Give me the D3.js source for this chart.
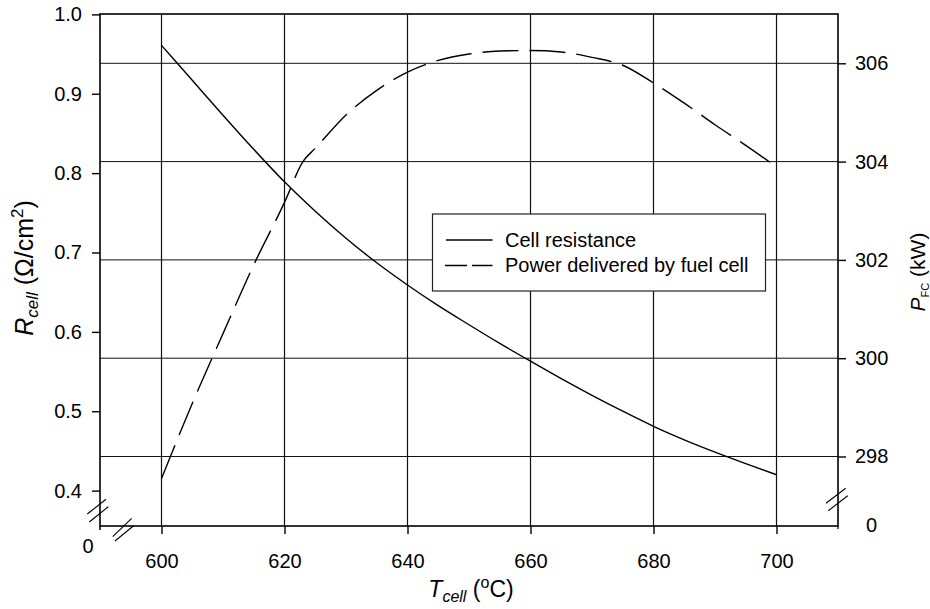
<!DOCTYPE html>
<html>
<head>
<meta charset="utf-8">
<script src="https://cdn.jsdelivr.net/npm/d3@7"></script>
<style>
  html, body { margin: 0; padding: 0; background: #fff; }
  svg { display: block; font-family: "Liberation Sans", Arial, Helvetica, sans-serif; }
</style>
</head>
<body>
<svg id="chart" width="930" height="609"></svg>
<script>
// ---- Data ----
const resT = [600, 605, 610, 615, 620, 625, 630, 635, 640, 645, 650, 655, 660, 665, 670, 675, 680, 685, 690, 695, 700];
const resR = [0.961, 0.917, 0.873, 0.830, 0.789, 0.752, 0.718, 0.687, 0.659, 0.633, 0.609, 0.5855, 0.563, 0.541, 0.520, 0.500, 0.481, 0.464, 0.4485, 0.434, 0.420];

const powT = [600, 605, 610, 615, 620, 623, 625, 630, 635, 640, 645, 650, 655, 660, 665, 670, 675, 680, 685, 690, 695, 699];
const powP = [297.55, 299.08, 300.5, 301.9, 303.17, 304.0, 304.27, 304.95, 305.45, 305.82, 306.06, 306.19, 306.25, 306.26, 306.23, 306.12, 305.96, 305.6, 305.19, 304.75, 304.33, 303.98];

const xTicks = [600, 620, 640, 660, 680, 700];
const yLeftTicks = [0.4, 0.5, 0.6, 0.7, 0.8, 0.9, 1.0];
const yRightTicks = [298, 300, 302, 304, 306];
const legendLabels = ["Cell resistance", "Power delivered by fuel cell"];

// ---- Layout ----
const L = 100, R = 838, T = 14, B = 526;
const svg = d3.select("#chart");

const x = d3.scaleLinear().domain([590, 710]).range([L, R]);
const yL = d3.scaleLinear().domain([0.4, 1.0]).range([490.6, 14.4]);
const yR = d3.scaleLinear().domain([298, 306]).range([456.5, 63.3]);

const ink = "#000";

// gridlines
const grid = svg.append("g");
grid.selectAll("line.v").data(xTicks).join("line")
  .attr("x1", d => x(d)).attr("x2", d => x(d))
  .attr("y1", T).attr("y2", B)
  .attr("stroke", "#111").attr("stroke-width", 1.2);
grid.selectAll("line.h").data(yRightTicks).join("line")
  .attr("x1", L).attr("x2", R)
  .attr("y1", d => yR(d)).attr("y2", d => yR(d))
  .attr("stroke", "#111").attr("stroke-width", 1);

// frame
svg.append("rect").attr("x", L).attr("y", T).attr("width", R - L).attr("height", B - T)
  .attr("fill", "none").attr("stroke", ink).attr("stroke-width", 1.6);
// spine extensions at zero
svg.append("line").attr("x1", L).attr("x2", L).attr("y1", B).attr("y2", B + 4).attr("stroke", ink).attr("stroke-width", 1.5);
svg.append("line").attr("x1", R).attr("x2", R).attr("y1", B).attr("y2", B + 3).attr("stroke", ink).attr("stroke-width", 1.2);

// curves
const lineR = d3.line().x((d, i) => x(resT[i])).y(d => yL(d)).curve(d3.curveMonotoneX);
svg.append("path").attr("d", lineR(resR))
  .attr("fill", "none").attr("stroke", ink).attr("stroke-width", 1.4);

const lineP = d3.line().x((d, i) => x(powT[i])).y(d => yR(d)).curve(d3.curveMonotoneX);
svg.append("path").attr("d", lineP(powP))
  .attr("fill", "none").attr("stroke", ink).attr("stroke-width", 1.4)
  .attr("stroke-dasharray", "36,11");

// axes
const fontSize = 20;
const gx = svg.append("g").attr("transform", `translate(0,${B})`)
  .call(d3.axisBottom(x).tickValues(xTicks).tickSize(8).tickPadding(20).tickFormat(d3.format("d")));
const gl = svg.append("g").attr("transform", `translate(${L},0)`)
  .call(d3.axisLeft(yL).tickValues(yLeftTicks).tickSize(8).tickPadding(10).tickFormat(d3.format(".1f")));
const gr = svg.append("g").attr("transform", `translate(${R},0)`)
  .call(d3.axisRight(yR).tickValues(yRightTicks).tickSize(8).tickPadding(9).tickFormat(d3.format("d")));
[gx, gl, gr].forEach(g => {
  g.select(".domain").remove();
  g.selectAll(".tick line").attr("stroke", ink).attr("stroke-width", 1.4);
  g.selectAll(".tick text").attr("fill", ink).attr("font-size", fontSize)
    .attr("font-family", "Liberation Sans, Arial, sans-serif");
});

// zero labels
svg.append("text").attr("x", 88).attr("y", 553).attr("text-anchor", "middle")
  .attr("font-size", fontSize).text("0");
svg.append("text").attr("x", 866).attr("y", 532).attr("text-anchor", "start")
  .attr("font-size", fontSize).text("0");

// break marks
function brk(x1, y1, x2, y2) {
  svg.append("line").attr("x1", x1).attr("y1", y1).attr("x2", x2).attr("y2", y2)
    .attr("stroke", ink).attr("stroke-width", 1.1);
}
brk(87.3, 514, 106, 499.3); brk(89.3, 522, 108.3, 506.7);
brk(112.7, 536.7, 131.7, 518.3); brk(115, 541, 133.3, 526);
brk(826, 503.3, 845.7, 488.3); brk(828.3, 510.7, 847.7, 495.7);

// legend
const lg = svg.append("g");
lg.append("rect").attr("x", 432.5).attr("y", 214).attr("width", 333).attr("height", 77)
  .attr("fill", "#fff").attr("stroke", "#222").attr("stroke-width", 1.2);
lg.append("line").attr("x1", 446).attr("x2", 492.5).attr("y1", 240).attr("y2", 240)
  .attr("stroke", ink).attr("stroke-width", 1.4);
lg.append("line").attr("x1", 445).attr("x2", 492.5).attr("y1", 265.5).attr("y2", 265.5)
  .attr("stroke", ink).attr("stroke-width", 1.6).attr("stroke-dasharray", "22,5");
lg.selectAll("text").data(legendLabels).join("text")
  .attr("x", 505).attr("y", (d, i) => 246.5 + i * 25.5)
  .attr("font-size", 20).attr("fill", ink).text(d => d);

// axis titles
const tx = svg.append("text").attr("x", 471).attr("y", 597).attr("text-anchor", "middle")
  .attr("font-size", 23).attr("fill", ink);
tx.append("tspan").attr("font-style", "italic").text("T");
tx.append("tspan").attr("font-style", "italic").attr("font-size", 16).attr("dy", 5).text("cell");
tx.append("tspan").attr("dy", -5).text(" (");
tx.append("tspan").attr("font-size", 16).attr("dy", -9).text("o");
tx.append("tspan").attr("dy", 9).text("C)");

const ty = svg.append("text").attr("transform", "translate(33,268) rotate(-90)")
  .attr("text-anchor", "middle").attr("font-size", 25).attr("fill", ink);
ty.append("tspan").attr("font-style", "italic").text("R");
ty.append("tspan").attr("font-style", "italic").attr("font-size", 17).attr("dy", 5).text("cell");
ty.append("tspan").attr("dy", -5).text(" (Ω/cm");
ty.append("tspan").attr("font-size", 17).attr("dy", -10).text("2");
ty.append("tspan").attr("dy", 10).text(")");

const tp = svg.append("text").attr("transform", "translate(925,272) rotate(-90)")
  .attr("text-anchor", "middle").attr("font-size", 21).attr("fill", ink);
tp.append("tspan").attr("font-style", "italic").text("P");
tp.append("tspan").attr("font-size", 11).attr("dy", 4).text("FC");
tp.append("tspan").attr("dy", -4).text(" (kW)");
</script>
</body>
</html>
